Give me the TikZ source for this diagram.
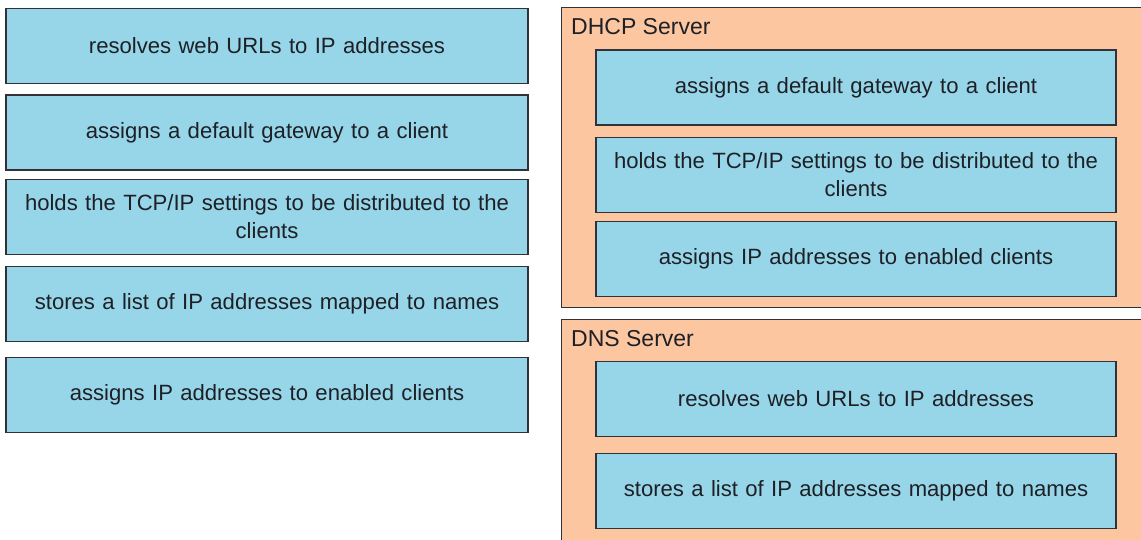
\documentclass[tikz,border=0pt]{standalone}
\usepackage{fontspec}
\setmainfont{Liberation Sans}
\definecolor{boxblue}{RGB}{150,214,232}
\definecolor{srvorange}{RGB}{252,198,160}
\definecolor{edgegray}{RGB}{48,50,56}
\definecolor{txt}{RGB}{30,32,38}
\begin{document}
\begin{tikzpicture}[x=1pt,y=-1pt,
  item/.style={draw=edgegray, line width=1.3pt, fill=boxblue, minimum height=75pt,
    align=center, inner sep=0pt, text width=510pt, text=txt,
    font=\fontsize{22.1}{28}\selectfont},
  leftitem/.style={item, minimum width=522pt},
  rightitem/.style={item, minimum width=520pt},
  container/.style={draw=edgegray, line width=1pt, fill=srvorange, minimum width=580pt, inner sep=0pt},
  title/.style={anchor=base west, inner sep=0pt, text=txt, font=\fontsize{23}{28}\selectfont}]
\fill[white] (0,0) rectangle (1141,540);
\useasboundingbox (0,0) rectangle (1141,540);
\clip (0,0) rectangle (1141,540);
% left items
\node[leftitem] (l1) at (267,46) {resolves web URLs to IP addresses};
\node[leftitem] (l2) at (267,132.5) {assigns a default gateway to a client};
\node[leftitem] (l3) at (267,217) {holds the TCP/IP settings to be distributed to the\\clients};
\node[leftitem] (l4) at (267,304) {stores a list of IP addresses mapped to names};
\node[leftitem] (l5) at (267,395) {assigns IP addresses to enabled clients};
% containers
\node[container, minimum height=299pt] (dhcp) at (851,157.5) {};
\node[title] (dhcpt) at (571,35) {DHCP Server};
\node[container, minimum height=240pt] (dns) at (851,439) {};
\node[title] (dnst) at (571,346) {DNS Server};
% right items
\node[rightitem] (r1) at (856,87.5) {assigns a default gateway to a client};
\node[rightitem] (r2) at (856,175) {holds the TCP/IP settings to be distributed to the\\clients};
\node[rightitem] (r3) at (856,259) {assigns IP addresses to enabled clients};
\node[rightitem] (r4) at (856,399) {resolves web URLs to IP addresses};
\node[rightitem] (r5) at (856,491) {stores a list of IP addresses mapped to names};
\end{tikzpicture}
\end{document}
